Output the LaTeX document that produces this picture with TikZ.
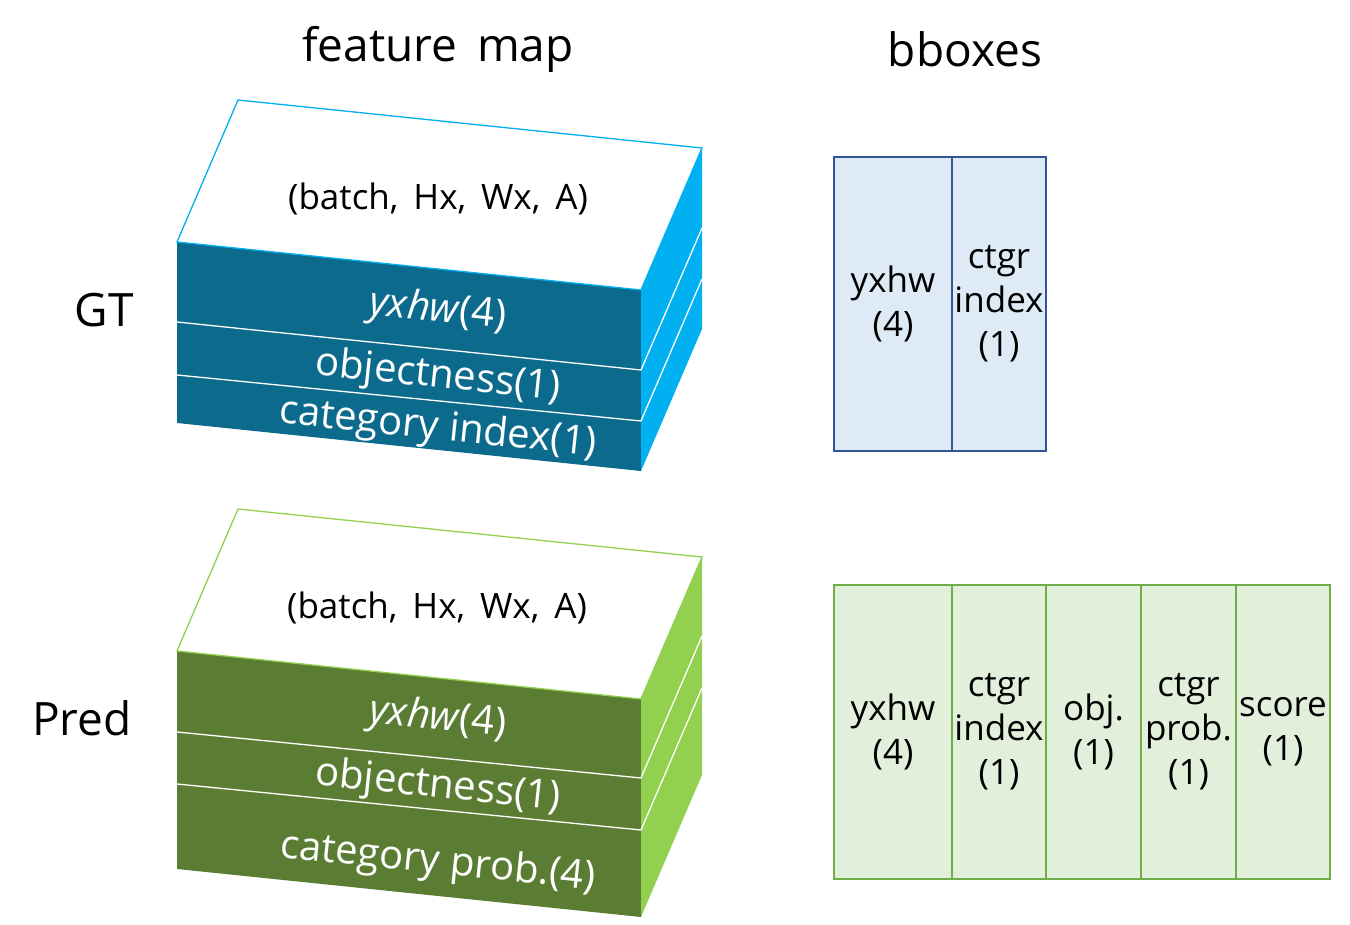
\documentclass[tikz,border=0pt]{standalone}
\usepackage{fontspec}
\setmainfont{Open Sans}
\usepackage{tikz}
\usetikzlibrary{positioning}

\definecolor{gtdark}{HTML}{0C6A8C}
\definecolor{gtlight}{HTML}{00B0F0}
\definecolor{gtfill}{HTML}{DEEBF7}
\definecolor{gtline}{HTML}{2F5597}
\definecolor{preddark}{HTML}{5B7D33}
\definecolor{predlight}{HTML}{92D050}
\definecolor{predfill}{HTML}{E2EFDA}
\definecolor{predline}{HTML}{70AD47}

\begin{document}
\begin{tikzpicture} [x=1pt,y=-1pt,
		title/.style={font=\fontsize{46}{52}\selectfont},
		shapetext/.style={font=\fontsize{35}{40}\selectfont},
		layer/.style={text=white,font=\fontsize{40}{44}\selectfont,rotate=-5.9,inner sep=0pt},
		sep/.style={draw=white,line width=1.3pt},
		cell/.style={draw,line width=2pt,minimum height=294pt,inner sep=0pt,outer sep=0pt,
			align=center,font=\fontsize{35}{44}\selectfont},
		gtcell/.style={cell,draw=gtline,fill=gtfill},
		predcell/.style={cell,draw=predline,fill=predfill}]
		
		\useasboundingbox (0,0) rectangle (1350,925);
		
		% Titles
		\node[title] (fmtitle) at (438,49) {feature \,map};
		\node[title] (bbtitle) at (965,49) {bboxes};
		\node[title] (gtlabel) at (104,310) {GT};
		\node[title] (predlabel) at (82,718) {Pred};
		
		% GT feature map
		\fill[gtdark] (177,242) -- (641,290) -- (641,471) -- (177,423) -- cycle; % front
		\fill[gtlight] (641,290) -- (702,148) -- (702,329) -- (641,471) -- cycle; % side
		\draw[gtlight,line width=1.3pt,fill=white] (177,242) -- (238,100) -- (702,148) -- (641,290) -- cycle; % top
		\draw[sep] (177,322) -- (641,370) -- (702,228);
		\draw[sep] (177,375) -- (641,421) -- (702,279);
		
		% Labels for GT layers
		\node[shapetext] (gtshape) at (438,199) {(batch, \,Hx, \,Wx, \,A)};
		\node[layer] (gtyxhw) at (438,311) {\textit{yxhw}(4)};
		\node[layer] (gtobj) at (438,377) {objectness(1)};
		\node[layer] (gtctgr) at (438,429) {category index(1)};
		
		% Pred feature map
		\fill[preddark] (177,651) -- (641,699) -- (641,917) -- (177,869) -- cycle; % front
		\fill[predlight] (641,699) -- (702,557) -- (702,775) -- (641,917) -- cycle; % side
		\draw[predlight,line width=1.3pt,fill=white] (177,651) -- (238,509) -- (702,557) -- (641,699) -- cycle; % top
		\draw[sep] (177,732) -- (641,778) -- (702,636);
		\draw[sep] (177,784) -- (641,830) -- (702,688);
		
		% Labels for Pred layers
		\node[shapetext] (predshape) at (437,608) {(batch, \,Hx, \,Wx, \,A)};
		\node[layer] (predyxhw) at (438,719) {\textit{yxhw}(4)};
		\node[layer] (predobj) at (438,787) {objectness(1)};
		\node[layer] (predctgr) at (438,863) {category prob.(4)};
		
		% GT bboxes
		\node[gtcell,minimum width=118pt,anchor=north west] (gtb1) at (834,157) {yxhw\\(4)};
		\node[gtcell,minimum width=94pt,right=0pt of gtb1] (gtb2) {ctgr\\index\\(1)};
		
		% Pred bboxes
		\node[predcell,minimum width=118pt,anchor=north west] (pb1) at (834,585) {yxhw\\(4)};
		\node[predcell,minimum width=94pt,right=0pt of pb1] (pb2) {ctgr\\index\\(1)};
		\node[predcell,minimum width=95pt,right=0pt of pb2] (pb3) {obj.\\(1)};
		\node[predcell,minimum width=95pt,right=0pt of pb3] (pb4) {ctgr\\prob.\\(1)};
		\node[predcell,minimum width=94pt,right=0pt of pb4] (pb5) {score\\(1)};
		\end{tikzpicture}
\end{document}
